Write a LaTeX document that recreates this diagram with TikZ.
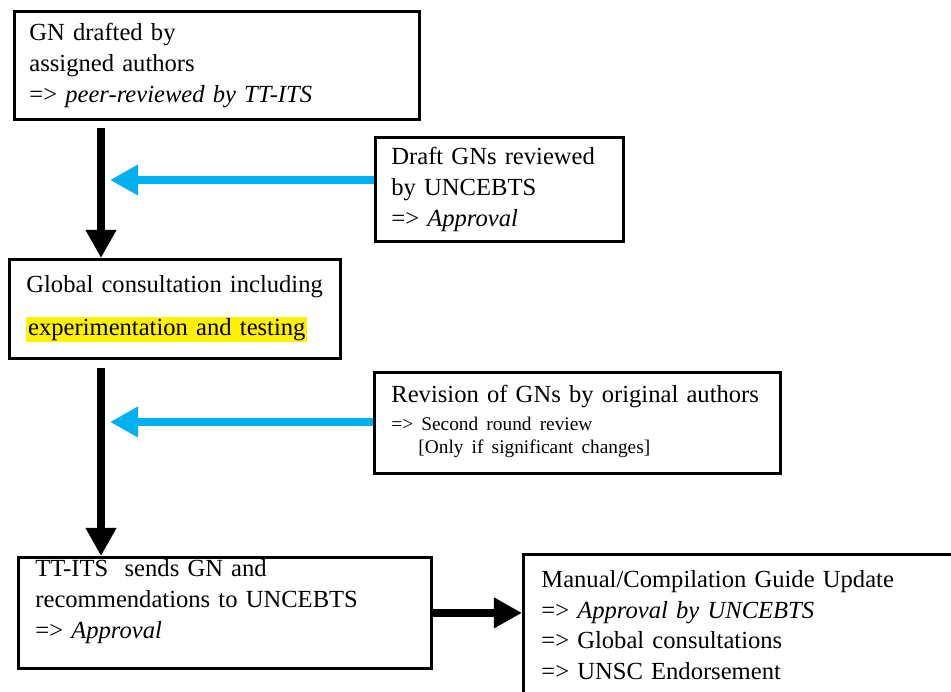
\documentclass[tikz,border=0pt]{standalone}
\usepackage{fontspec}
\setmainfont{Liberation Serif}
\usepackage{tikz}
\usetikzlibrary{arrows.meta,calc}

\definecolor{skyblue}{HTML}{00B0F0}
\newcommand{\smalltxt}{\fontsize{11}{13}\selectfont}

\tikzset{
  box/.style={draw, line width=1.6pt, anchor=north west, align=left,
    inner ysep=2pt, font=\fontsize{14}{17.5}\selectfont},
  flow/.style={line width=5pt, -{Triangle[width=16.5pt,length=16pt]}},
  back/.style={flow, skyblue},
}

\begin{document}
\begin{tikzpicture}[x=0.02cm, y=-0.02cm]
            \useasboundingbox (0,0) rectangle (951,692);
            \node[box, inner xsep=0.3cm, text width=7.5cm, minimum height=2.16cm]
              (draft) at (13,10) {GN drafted by\\assigned authors\\=> \textit{peer-reviewed by TT-ITS}};
            \node[box, inner xsep=0.32cm, text width=4.32cm, minimum height=2.08cm]
              (review) at (374,136) {Draft GNs reviewed\\by UNCEBTS\\=> \textit{Approval}};
            \node[box, inner xsep=0.34cm, text width=5.94cm, minimum height=1.98cm]
              (consult) at (8,258) {Global consultation including\\[7pt]%
              {\setlength{\fboxsep}{1pt}\colorbox{yellow}{experimentation and testing}}};
            \node[box, inner xsep=0.34cm, text width=7.44cm, minimum height=2.02cm]
              (revise) at (373,371) {\mbox{Revision of GNs by original authors}\\[-1.5pt]
              {\smalltxt\begin{tabular}[t]{@{}l@{}}=> Second round review\\
              \hspace*{1.4em}[Only if significant changes]\end{tabular}}};
            \node[box, inner xsep=0.34cm, inner ysep=0pt, text width=7.58cm, minimum height=2.22cm, text depth=51pt]
              (send) at (17,556) {TT-ITS~ sends GN and\\recommendations to UNCEBTS\\=> \textit{Approval}};
            \node[box, inner xsep=0.36cm, inner ysep=9pt, text width=8.48cm, minimum width=9.2cm, text depth=63pt]
              (manual) at (522,553) {Manual/Compilation Guide Update\\=> \textit{Approval by UNCEBTS}\\%
              => Global consultations\\=> UNSC Endorsement};

            \coordinate (m1) at (110,180);
            \coordinate (m2) at (110,422);

            \draw[flow] ($(draft.south west)+(88,7)$) -- ($(consult.north west)+(93,0)$);
            \draw[flow] ($(consult.south west)+(93,8)$) -- ($(send.north west)+(84,0)$);
            \draw[back] (review.west |- m1) -- (m1);
            \draw[back] (revise.west |- m2) -- (m2);
            \draw[flow] (send.east) -- (send.east -| manual.west);
\end{tikzpicture}
\end{document}
